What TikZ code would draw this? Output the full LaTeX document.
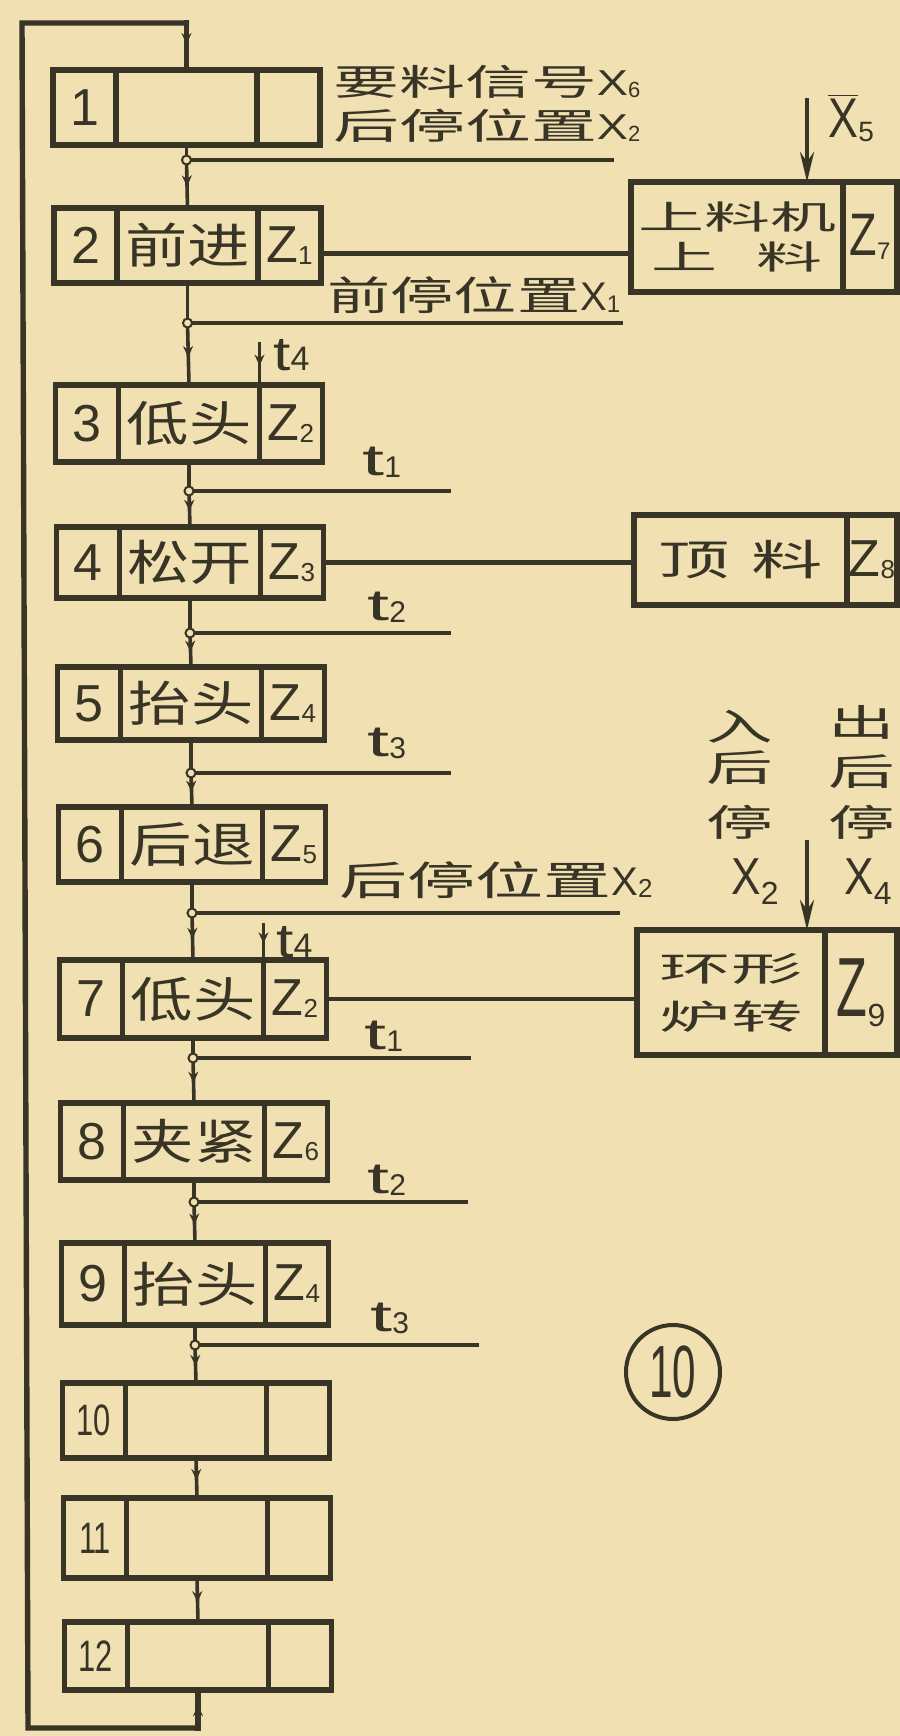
\documentclass[tikz,border=0pt]{standalone}
\usepackage{fontspec}
\usepackage{graphicx}
\usetikzlibrary{arrows.meta,decorations.markings}
\setmainfont{Liberation Sans}
\newfontfamily\cjk{Noto Sans CJK SC}
\newcommand\fsz[1]{\fontsize{#1}{#1}\selectfont}
\newcommand\cj[2]{\scalebox{#1}[1]{\cjk #2}}
\newcommand\lowtxt[3]{\raisebox{-#1pt}{\fsz{#2}#3}}
\newcommand\tlab[1]{\fsz{22}\scalebox{1.8}[1]{t}\lowtxt{1}{15}{#1}}
\definecolor{paper}{RGB}{241,224,178}
\definecolor{ink}{RGB}{56,53,38}
\newcommand\boxrow[7]{%
  \pgfmathsetmacro\rowyc{(#2+#3)/2}%
  \pgfmathsetmacro\rowh{(#3-#2)/2}%
  \node[cell, minimum width=31.5pt, minimum height=\rowh pt] (n#1) at (84.5+#4,\rowyc) {#5};%
  \node[cell, minimum width=70.5pt, minimum height=\rowh pt] (m#1) at (186.5+#4,\rowyc) {#6};%
  \node[cell, minimum width=31.5pt, minimum height=\rowh pt] (z#1) at (288.5+#4,\rowyc) {#7};%
}
\begin{document}
\begin{tikzpicture}[x=0.5pt,y=-0.5pt,color=ink,
  cell/.style={draw, line width=2.8pt, rectangle, inner sep=0pt, outer sep=0pt},
  flow/.style={draw, line width=1.8pt},
  hline/.style={draw, line width=2.3pt},
  loopline/.style={draw, line width=2.7pt, line cap=rect},
  midarrow/.style={postaction={decorate}, decoration={markings, mark=at position #1 with {\arrow{Stealth[length=5.5pt,width=5pt]}}}},
  midarrow/.default=0.55,
  bigarrow/.style={draw, line width=2.2pt, -{Stealth[length=15pt,width=7pt]}},
  jdot/.style={circle, draw, fill=paper, line width=1pt, minimum size=4.5pt, inner sep=0pt},
  lab/.style={inner sep=0pt, anchor=west},
  col/.style={inner sep=0pt},
]
\path[use as bounding box] (0,0) rectangle (900,1736);
\fill[paper] (0,0) rectangle (900,1736);
\clip (0,0) rectangle (900,1736);

% step boxes
\boxrow{1}{70}{145}{0}{\fsz{26}1}{}{}
\boxrow{2}{208}{283}{1}{\fsz{26}2}{\fsz{24}\cj{1.3}{前进}}{\fsz{26}Z\lowtxt{1}{13}{1}}
\boxrow{3}{385}{462}{2.5}{\fsz{26}3}{\fsz{24}\cj{1.3}{低头}}{\fsz{26}Z\lowtxt{1}{13}{2}}
\boxrow{4}{527}{598}{3.5}{\fsz{26}4}{\fsz{24}\cj{1.3}{松开}}{\fsz{26}Z\lowtxt{1}{13}{3}}
\boxrow{5}{667}{740}{4.5}{\fsz{26}5}{\fsz{24}\cj{1.3}{抬头}}{\fsz{26}Z\lowtxt{1}{13}{4}}
\boxrow{6}{807}{882}{5.5}{\fsz{26}6}{\fsz{24}\cj{1.3}{后退}}{\fsz{26}Z\lowtxt{1}{13}{5}}
\boxrow{7}{960}{1038}{6.5}{\fsz{26}7}{\fsz{24}\cj{1.3}{低头}}{\fsz{26}Z\lowtxt{1}{13}{2}}
\boxrow{8}{1103}{1180}{7.5}{\fsz{26}8}{\fsz{24}\cj{1.3}{夹紧}}{\fsz{26}Z\lowtxt{1}{13}{6}}
\boxrow{9}{1243}{1325}{8.5}{\fsz{26}9}{\fsz{24}\cj{1.3}{抬头}}{\fsz{26}Z\lowtxt{1}{13}{4}}
\boxrow{10}{1383}{1458}{9.5}{\fsz{22}\scalebox{0.7}[1]{10}}{}{}
\boxrow{11}{1498}{1578}{10.5}{\fsz{22}\scalebox{0.7}[1]{11}}{}{}
\boxrow{12}{1622}{1690}{11.5}{\fsz{22}\scalebox{0.7}[1]{12}}{}{}

% flow lines, branch lines and junctions
\foreach \i/\k/\dx/\L/\E in {1/2/0/160/614, 2/3/1/323/623, 3/4/2.5/491/451, 4/5/3.5/633/451, 5/6/4.5/773/451, 6/7/5.5/913/620, 7/8/6.5/1058/471, 8/9/7.5/1202/468, 9/10/8.5/1345/479}{
  \coordinate (j\i) at (186.5+\dx,\L);
  \coordinate (e\i) at (\E,\L);
  \draw[flow] (m\i.south) -- (j\i);
  \draw[flow, midarrow] (j\i) -- (m\k.north);
  \draw[hline] (j\i) -- (e\i);
  \node[jdot] (d\i) at (j\i) {};
}
\draw[flow, midarrow] (m10.south) -- (m11.north);
\draw[flow, midarrow] (m11.south) -- (m12.north);

% return loop
\coordinate (lt1) at (22,23);
\coordinate (lt2) at (186.5,23);
\coordinate (lb1) at (198,1728);
\coordinate (lb2) at (28,1728);
\draw[loopline] (lb1) -- (lb2) -- (lt1) -- (lt2);
\draw[loopline, midarrow=0.45] (lt2) -- (m1.north);
\draw[loopline, midarrow=0.6] (lb1) -- (m12.south);

% t4 inputs
\coordinate (t4a) at (259.5,342);
\draw[flow, midarrow] (t4a) -- (z3.north west);
\coordinate (t4b) at (263.5,923);
\draw[flow, midarrow] (t4b) -- (z7.north west);

% right-hand boxes
\node[cell, minimum width=106pt, minimum height=55pt, align=center, font={\fontsize{16.5}{20}\selectfont}] (rA1) at (737,237) {\cj{2}{上料机}\\\cj{2}{上\hspace{0.6em}料}};
\node[cell, minimum width=27pt, minimum height=55pt] (rA2) at (870,237) {\fsz{30}\scalebox{0.75}[1]{Z}\lowtxt{2}{12}{7}};
\node[cell, minimum width=106.5pt, minimum height=45pt] (rB1) at (740.5,560) {\fsz{21}\cj{1.7}{顶\hspace{0.3em}料}};
\node[cell, minimum width=25pt, minimum height=45pt] (rB2) at (872,560) {\fsz{26}Z\lowtxt{1}{13}{8}};
\node[cell, minimum width=94pt, minimum height=62.5pt, align=center, font={\fontsize{17}{24}\selectfont}] (rC1) at (731,992.5) {\cj{2.1}{环形}\\\cj{2.1}{炉转}};
\node[cell, minimum width=36pt, minimum height=62.5pt] (rC2) at (861,992.5) {\fsz{42}\scalebox{0.6}[1]{Z}\lowtxt{5}{16}{9}};

% connectors to right-hand boxes
\coordinate (c2a) at ([yshift=-4pt]z2.east);
\draw[hline] (c2a) -- (c2a -| rA1.west);
\draw[hline] (z4.east) -- (z4.east -| rB1.west);
\draw[hline] (z7.east) -- (z7.east -| rC1.west);

% vertical input arrows
\coordinate (x5top) at (807,98);
\draw[bigarrow] (x5top) -- (x5top |- rA1.north);
\coordinate (c9top) at (807,840);
\draw[bigarrow] (c9top) -- (c9top |- rC1.north);

% labels
\node[lab] (lx5) at (828,118) {\fsz{28}$\overline{\mbox{\scalebox{0.8}[1]{X}}}$\lowtxt{2}{14}{5}};
\node[lab] (l1a) at (333,82) {\fsz{18}\cj{1.83}{要料信号}\scalebox{1.3}[1]{X}\lowtxt{1}{11}{6}};
\node[lab] (l1b) at (333,126) {\fsz{18}\cj{1.83}{后停位置}\scalebox{1.3}[1]{X}\lowtxt{1}{11}{2}};
\node[lab] (l2) at (327,295) {\fsz{20}\cj{1.58}{前停位置}X\lowtxt{1}{12}{1}};
\node[lab] (l6) at (339,880) {\fsz{20}\cj{1.7}{后停位置}X\lowtxt{1}{13}{2}};

\node[lab] (tl3) at (362,462) {\tlab{1}};
\node[lab] (tl4) at (367,607) {\tlab{2}};
\node[lab] (tl5) at (367,743) {\tlab{3}};
\node[lab] (tl7) at (364,1036) {\tlab{1}};
\node[lab] (tl8) at (367,1180) {\tlab{2}};
\node[lab] (tl9) at (370,1318) {\tlab{3}};
\node[lab] (t4l3) at (273,355) {\fsz{24}\scalebox{1.3}[1]{t}\lowtxt{0}{17}{4}};
\node[lab] (t4l7) at (276,942) {\fsz{24}\scalebox{1.3}[1]{t}\lowtxt{0}{17}{4}};

% column labels
\node[col] (in1) at (740,727) {\fsz{18.5}\cj{1.8}{入}};
\node[col] (in2) at (740,768) {\fsz{18.5}\cj{1.8}{后}};
\node[col] (in3) at (740,822) {\fsz{18.5}\cj{1.8}{停}};
\node[col] (in4) at (755,882) {\fsz{26}\scalebox{0.85}[1]{X}\lowtxt{5}{16}{2}};
\node[col] (out1) at (862,722) {\fsz{18.5}\cj{1.8}{出}};
\node[col] (out2) at (862,772) {\fsz{18.5}\cj{1.8}{后}};
\node[col] (out3) at (862,822) {\fsz{18.5}\cj{1.8}{停}};
\node[col] (out4) at (868,882) {\fsz{26}\scalebox{0.85}[1]{X}\lowtxt{5}{16}{4}};

% figure number
\node[circle, draw, line width=2pt, minimum size=47pt, inner sep=0pt] (c10) at (673,1372) {\fsz{37}\scalebox{0.57}[1]{10}};
\end{tikzpicture}
\end{document}
